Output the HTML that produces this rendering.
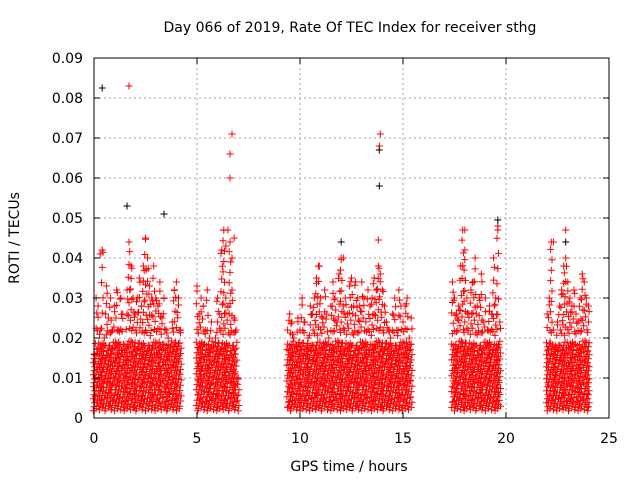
<!DOCTYPE html>
<html><head><meta charset="utf-8"><style>
body{margin:0;background:#fff;}
svg{display:block;font-family:"DejaVu Sans","Liberation Sans",sans-serif;}
</style></head><body>
<svg id="chart" width="640" height="480">
<text x="350" y="32" font-size="14" text-anchor="middle">Day 066 of 2019, Rate Of TEC Index for receiver sthg</text>
<text x="349" y="471" font-size="14" text-anchor="middle">GPS time / hours</text>
<text transform="translate(19,238) rotate(-90)" font-size="14" text-anchor="middle">ROTI / TECUs</text>
<g id="grid"></g><g id="marks"></g><g id="axes"></g>
</svg>
<script>
const xTicks=[0,5,10,15,20,25];
const yTicks=[0,0.01,0.02,0.03,0.04,0.05,0.06,0.07,0.08,0.09];
const yTickLabels=["0","0.01","0.02","0.03","0.04","0.05","0.06","0.07","0.08","0.09"];
const binStart=0, binStep=0.1;
const envelope=[
16,30,28,22,42,20,33,25,30,22,
28,32,22,30,26,18,32,44,38,30,
26,30,35,28,38,45,40,33,30,38,
30,28,34,25,30,22,20,18,24,32,
34,30,22,0,0,0,0,0,0,0,
33,26,30,28,22,32,20,24,18,20,
30,26,42,47,30,28,44,32,25,22,
10,0,0,0,0,0,0,0,0,0,
0,0,0,0,0,0,0,0,0,0,
0,0,0,0,22,26,24,20,18,25,
22,30,24,18,20,28,26,30,35,38,
30,25,32,26,20,28,34,30,24,36,
40,28,30,26,33,35,28,34,30,28,
34,30,24,32,28,30,35,32,38,36,
32,28,24,22,20,26,30,22,32,28,
24,28,30,20,25,0,0,0,0,0,
0,0,0,0,0,0,0,0,0,0,
0,0,0,0,34,30,26,28,38,47,
42,30,26,32,34,40,28,30,36,24,
30,22,28,26,40,30,48,24,0,0,
0,0,0,0,0,0,0,0,0,0,
0,0,0,0,0,0,0,0,0,0,
26,30,44,22,18,24,28,32,38,40,
34,30,28,32,26,24,30,36,34,30,
28];
const outlierT=[0.3,1.7,6.7,6.6,6.6,6.5,6.4,6.8,6.7,13.9,13.85,13.8,18.0,19.6,22.3,22.9,12.1];
const outlierV=[0.041,0.083,0.071,0.066,0.060,0.047,0.043,0.045,0.040,0.071,0.068,0.0445,0.047,0.047,0.044,0.047,0.040];
const blackT=[0.4,1.6,3.4,13.85,13.85,19.6,12.0,22.9];
const blackV=[0.0825,0.053,0.051,0.067,0.058,0.0495,0.044,0.044];

const L=94,R=609,T=58,B=418;
const xs=v=>L+(v-0)/25*(R-L);
const ys=v=>B-(v/0.09)*(B-T);
const NS="http://www.w3.org/2000/svg";
const grid=document.getElementById('grid'),marks=document.getElementById('marks'),axes=document.getElementById('axes');
function mk(tag,attrs,parent){const e=document.createElementNS(NS,tag);for(const k in attrs)e.setAttribute(k,attrs[k]);parent.appendChild(e);return e;}
xTicks.forEach((t,i)=>{
 const x=xs(t);
 if(i>0&&i<xTicks.length-1){const g=mk('line',{x1:x,x2:x,y1:T,y2:B,stroke:'#a0a0a0','stroke-dasharray':'2,3'},grid);
 
 }
 mk('line',{x1:x,x2:x,y1:B,y2:B-6,stroke:'#000'},axes);mk('line',{x1:x,x2:x,y1:T,y2:T+6,stroke:'#000'},axes);
 const tx=mk('text',{x:x,y:B+25,'font-size':14,'text-anchor':'middle'},axes);tx.textContent=String(t);
 
 
});
yTicks.forEach((t,i)=>{
 const y=ys(t);
 if(i>0&&i<yTicks.length-1){const g=mk('line',{x1:L,x2:R,y1:y,y2:y,stroke:'#a0a0a0','stroke-dasharray':'2,3'},grid);
 
 }
 mk('line',{x1:L,x2:L+6,y1:y,y2:y,stroke:'#000'},axes);mk('line',{x1:R,x2:R-6,y1:y,y2:y,stroke:'#000'},axes);
 const tx=mk('text',{x:L-11,y:y+5,'font-size':14,'text-anchor':'end'},axes);tx.textContent=yTickLabels[i];
 
 
});
const frame=mk('rect',{x:L,y:T,width:R-L,height:B-T,fill:'none',stroke:'#000'},axes);


function plus(x,y){return `M${(x-3.5).toFixed(1)} ${y.toFixed(1)}h7M${x.toFixed(1)} ${(y-3.5).toFixed(1)}v7`;}
envelope.forEach((e,i)=>{
 if(!e)return;
 const t=binStart+i*binStep, top=e/1000;
 let d='';let k=0;
 const start=0.0018+((i*7)%5)*0.00028;
 const dstep=0.0010+((i*3)%4)*0.00016;
 const sstep=0.0026+((i*5)%3)*0.0006;
 for(let v=start;v<=top;v+=(v<0.018?dstep:sstep)){
  const off=(((k+i)%3)-1)*0.035;d+=plus(xs(t+off),ys(v));k++;
 }
 d+=plus(xs(t),ys(top));
 const p=mk('path',{d:d,stroke:'#ff0000','stroke-width':1,fill:'none'},marks);
 
 
});
outlierT.forEach((t,i)=>{
 const p=mk('path',{d:plus(xs(t),ys(outlierV[i])),stroke:'#ff0000',fill:'none'},marks);
 
 
});
blackT.forEach((t,i)=>{
 const p=mk('path',{d:plus(xs(t),ys(blackV[i])),stroke:'#000',fill:'none'},marks);
 
 
});
</script>
</body></html>
